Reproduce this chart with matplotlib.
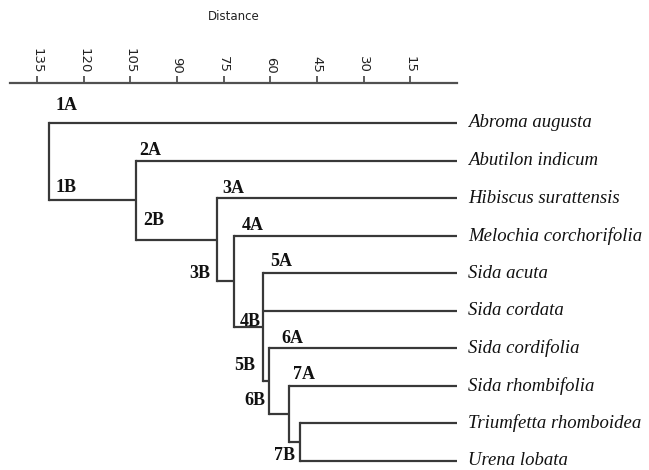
import matplotlib
matplotlib.use("Agg")
import matplotlib.pyplot as plt

# ---- data ----
leaves = ["Abroma augusta", "Abutilon indicum", "Hibiscus surattensis",
          "Melochia corchorifolia", "Sida acuta", "Sida cordata",
          "Sida cordifolia", "Sida rhombifolia", "Triumfetta rhomboidea",
          "Urena lobata"]
# merge heights (distance) of the chained clusters, from root to tip
node_heights = [131.3, 103.2, 77.1, 71.6, 62.3, 60.4, 53.9, 50.4]
# leaves joined directly at each node (the rest of the tree hangs below)
node_leaves = [[0], [1], [2], [3], [4, 5], [6], [7], [8, 9]]
tick_values = [135, 120, 105, 90, 75, 60, 45, 30, 15]
node_labels = ["1A", "1B", "2A", "2B", "3A", "3B", "4A", "4B",
               "5A", "5B", "6A", "6B", "7A", "7B"]

# ---- layout (label positions, in axis units: distance, leaf row) ----
label_pos = [(125.4, -0.47), (125.8, 1.71), (98.6, 0.72), (97.6, 2.60),
             (71.9, 1.74), (82.6, 4.00), (65.8, 2.74), (66.5, 5.28),
             (56.6, 3.70), (68.4, 6.46), (53.0, 5.73), (65.0, 7.38),
             (49.1, 6.71), (55.4, 8.85)]

W, H = 649, 470
fig = plt.figure(figsize=(W / 100, H / 100), dpi=100)
ax = fig.add_axes([10 / W, 0, 447 / W, 387 / H])
ax.set_xlim(143.7, 0)
ax.set_ylim(9.24, -1.065)

lc = "#383838"
lw = 1.6


def draw(k):
    ys = []
    h = node_heights[k]
    for lf in node_leaves[k]:
        ax.plot([h, 0], [lf, lf], color=lc, lw=lw, solid_capstyle="butt")
        ys.append(lf)
    if k + 1 < len(node_heights):
        cy = draw(k + 1)
        ax.plot([h, node_heights[k + 1]], [cy, cy], color=lc, lw=lw,
                solid_capstyle="butt")
        ys.append(cy)
    ax.plot([h, h], [min(ys), max(ys)], color=lc, lw=lw,
            solid_capstyle="projecting")
    return (min(ys) + max(ys)) / 2


draw(0)

for i, name in enumerate(leaves):
    ax.text(-3.6, i, name, fontfamily="Liberation Serif", fontstyle="italic",
            fontsize=13.5, va="center", ha="left", clip_on=False,
            color="#111111")

for lab, (x, y) in zip(node_labels, label_pos):
    ax.text(x, y, lab, fontfamily="Liberation Serif", fontweight="bold",
            fontsize=13, ha="center", va="center", color="#111111")

# axis on top
for s in ["left", "right", "bottom"]:
    ax.spines[s].set_visible(False)
ax.spines["top"].set_color("#505050")
ax.spines["top"].set_linewidth(1.6)
ax.xaxis.tick_top()
ax.xaxis.set_label_position("top")
ax.set_xticks(tick_values)
ax.set_xticklabels([str(t) for t in tick_values], rotation=270,
                   fontsize=9.5, color="#222222")
ax.tick_params(axis="x", direction="out", length=5, width=1.3,
               color="#505050", pad=2)
ax.set_yticks([])
ax.set_xlabel("Distance", fontsize=8.5, labelpad=20, color="#222222")

fig.savefig("out.png", dpi=100)
